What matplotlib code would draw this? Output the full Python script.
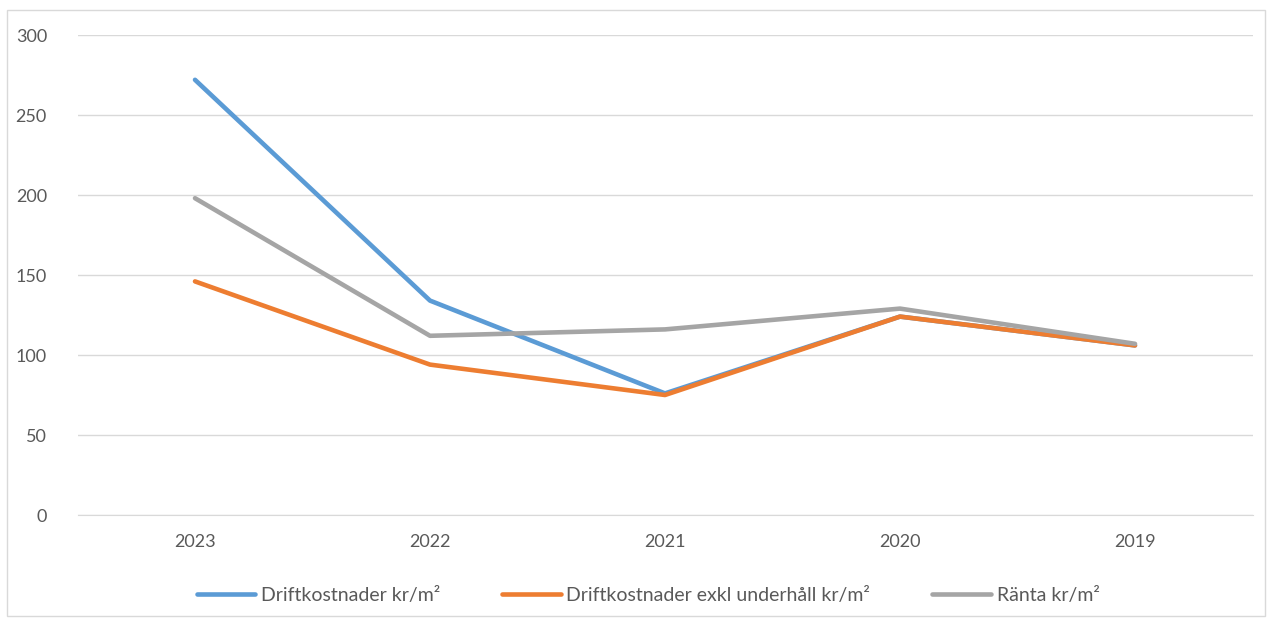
import matplotlib
matplotlib.use("Agg")
import matplotlib.pyplot as plt
from matplotlib.patches import Rectangle

years = ["2023", "2022", "2021", "2020", "2019"]
drift = [272, 134, 76, 124, 106]
drift_exkl = [146, 94, 75, 124, 106]
ranta = [198, 112, 116, 129, 107]
labels = ["Driftkostnader kr/m²", "Driftkostnader exkl underhåll kr/m²", "Ränta kr/m²"]
colors = ["#5B9BD5", "#ED7D31", "#A5A5A5"]

plt.rcParams['font.family'] = ['Lato', 'DejaVu Sans']

fig = plt.figure(figsize=(12.7, 6.21), dpi=100)
ax = fig.add_axes([77.5/1270, 1-515/621, (1252.5-77.5)/1270, (515-35)/621])

x = list(range(len(years)))
for vals, lab, col in zip([drift, drift_exkl, ranta], labels, colors):
    ax.plot(x, vals, color=col, lw=3.3, label=lab, solid_capstyle='round', solid_joinstyle='round')

ax.set_xlim(-0.5, len(years)-0.5)
ax.set_ylim(0, 300)
ax.set_yticks(range(0, 301, 50))
ax.set_xticks(x)
ax.set_xticklabels(years)
ax.grid(axis='y', color='#D9D9D9', lw=1)
ax.set_axisbelow(True)
for s in ['top', 'right', 'left']:
    ax.spines[s].set_visible(False)
ax.spines['bottom'].set_color('#D9D9D9')
ax.tick_params(axis='both', length=0, colors='#595959', labelsize=13)
ax.tick_params(axis='y', pad=22)
ax.tick_params(axis='x', pad=14)

leg = fig.legend(loc='center', bbox_to_anchor=(648/1270, 1-595/621), ncol=3, frameon=False,
                 fontsize=14, handlelength=3.0, columnspacing=3.2, handletextpad=0.3)
for t in leg.get_texts():
    t.set_color('#595959')

fig.patches.append(Rectangle((7/1270, 1-616/621), 1258/1270, 606/621, transform=fig.transFigure,
                             fill=False, edgecolor='#D9D9D9', lw=1))

fig.savefig("out.png", dpi=100)
